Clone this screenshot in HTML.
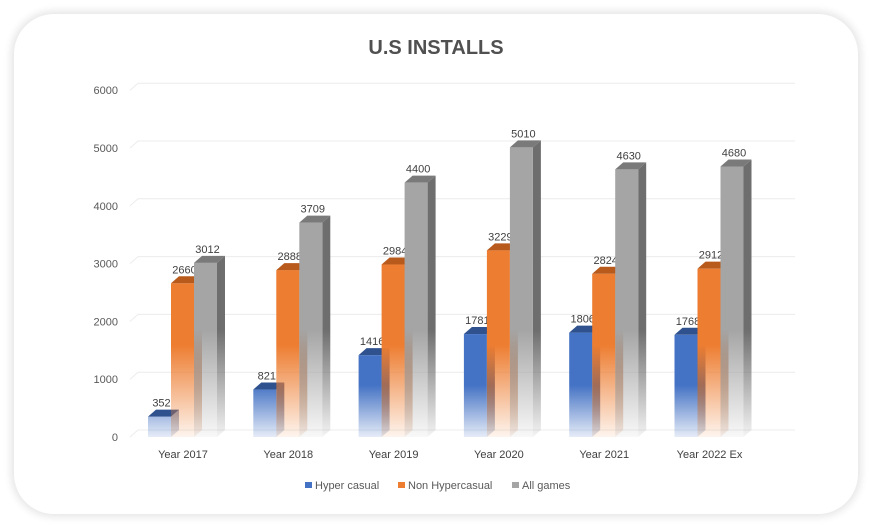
<!DOCTYPE html>
<html><head><meta charset="utf-8"><style>
body{margin:0;background:#fff;width:873px;height:528px;overflow:hidden;font-family:"Liberation Sans",sans-serif}
.card{position:absolute;left:14px;top:14px;width:844px;height:500px;border-radius:40px;background:#fff;box-shadow:0 0 8px 3px rgba(0,0,0,0.10)}
</style></head><body>
<div class="card"></div>
<svg id="s" width="873" height="528" style="position:absolute;left:0;top:0" font-family="Liberation Sans, sans-serif">
<defs>
<linearGradient id="gb" gradientUnits="userSpaceOnUse" x1="0" y1="385" x2="0" y2="442"><stop offset="0" stop-color="#4472c4"/><stop offset="1" stop-color="#4472c4" stop-opacity="0.05"/></linearGradient>
<linearGradient id="go" gradientUnits="userSpaceOnUse" x1="0" y1="345" x2="0" y2="440"><stop offset="0" stop-color="#ed7d31"/><stop offset="1" stop-color="#ed7d31" stop-opacity="0.05"/></linearGradient>
<linearGradient id="gg" gradientUnits="userSpaceOnUse" x1="0" y1="330" x2="0" y2="440"><stop offset="0" stop-color="#a5a5a5"/><stop offset="1" stop-color="#a5a5a5" stop-opacity="0.05"/></linearGradient>
<linearGradient id="sb" gradientUnits="userSpaceOnUse" x1="0" y1="385" x2="0" y2="442"><stop offset="0" stop-color="#2f528f"/><stop offset="1" stop-color="#2f528f" stop-opacity="0.05"/></linearGradient>
<linearGradient id="so" gradientUnits="userSpaceOnUse" x1="0" y1="345" x2="0" y2="440"><stop offset="0" stop-color="#b85a1c"/><stop offset="1" stop-color="#b85a1c" stop-opacity="0.05"/></linearGradient>
<linearGradient id="sg" gradientUnits="userSpaceOnUse" x1="0" y1="330" x2="0" y2="440"><stop offset="0" stop-color="#6e6e6e"/><stop offset="1" stop-color="#6e6e6e" stop-opacity="0.05"/></linearGradient>
</defs>
<text x="436" y="54" text-anchor="middle" font-size="20" font-weight="bold" fill="#505050">U.S INSTALLS</text>
</svg>
<script>
var s=document.getElementById('s'),NS='http://www.w3.org/2000/svg';
function el(t,a,txt){var e=document.createElementNS(NS,t);for(var k in a)e.setAttribute(k,a[k]);if(txt!=null)e.textContent=txt;s.appendChild(e);return e;}
function Y(v){return 437-v*0.0578;}
for(var i=0;i<=6;i++){var y=Y(i*1000);
el('text',{x:118,y:y+4,'text-anchor':'end','font-size':11,fill:'#595959'},i*1000);
el('path',{d:'M130 '+y+' L138 '+(y-7)+' L795 '+(y-7),stroke:'#ececec','stroke-width':1,fill:'none'});}
var d=[[352,2660,3012],[821,2888,3709],[1416,2984,4400],[1781,3229,5010],[1806,2824,4630],[1768,2912,4680]];
var cats=['Year 2017','Year 2018','Year 2019','Year 2020','Year 2021','Year 2022 Ex'];
var F=['url(#gb)','url(#go)','url(#gg)'],S=['url(#sb)','url(#so)','url(#sg)'],T=['#2f528f','#b85a1c','#7a7a7a'];
var w=23,dx=8,dy=7;
for(var g=0;g<6;g++){var c=183+g*105.3;
el('text',{x:c,y:458,'text-anchor':'middle','font-size':11,fill:'#404040'},cats[g]);
for(var j=0;j<3;j++){var x=c-35+j*w,v=d[g][j],t=Y(v);
el('path',{d:'M'+(x+w)+' '+t+' L'+(x+w+dx)+' '+(t-dy)+' L'+(x+w+dx)+' '+(437-dy)+' L'+(x+w)+' 437Z',fill:S[j]});
el('rect',{x:x,y:t,width:w,height:437-t,fill:F[j]});
el('path',{d:'M'+x+' '+t+' L'+(x+dx)+' '+(t-dy)+' L'+(x+w+dx)+' '+(t-dy)+' L'+(x+w)+' '+t+'Z',fill:T[j]});
el('text',{x:x+w/2+2,y:t-10,'text-anchor':'middle','font-size':11,fill:'#404040'},v);
}}
var L=[[305,'#4472c4','Hyper casual'],[398,'#ed7d31','Non Hypercasual'],[512,'#a5a5a5','All games']];
L.forEach(function(l){el('rect',{x:l[0],y:482,width:7,height:6,fill:l[1]});el('text',{x:l[0]+10,y:489,'font-size':11,fill:'#595959'},l[2]);});
</script>
</body></html>
